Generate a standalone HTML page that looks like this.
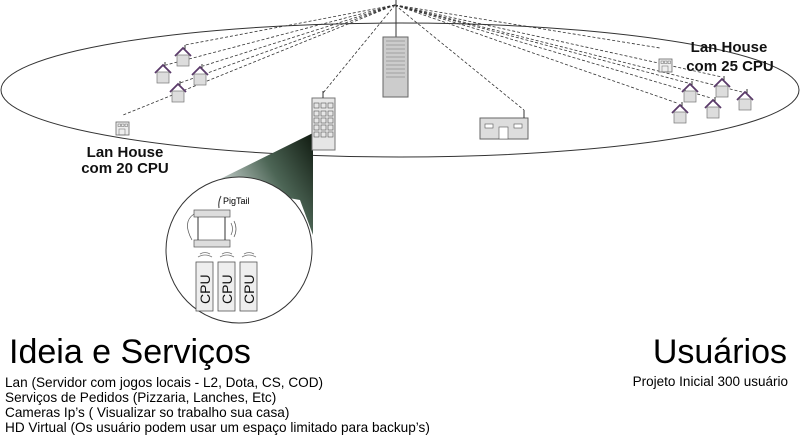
<!DOCTYPE html>
<html><head><meta charset="utf-8"><style>
body{margin:0;background:#fff;width:800px;height:435px;overflow:hidden;font-family:"Liberation Sans",sans-serif}
</style></head><body>
<svg width="800" height="435" viewBox="0 0 800 435" xmlns="http://www.w3.org/2000/svg" font-family="Liberation Sans, sans-serif">
<defs>
<linearGradient id="g" x1="1" y1="0" x2="0" y2="0.6">
<stop offset="0" stop-color="#101a10"/><stop offset="0.45" stop-color="#4d6656"/><stop offset="1" stop-color="#e8eeee"/>
</linearGradient>
<g id="h"><path d="M-8,0 L0,-8 L8,0" fill="none" stroke="#5a3a6a" stroke-width="1.8"/><rect x="-6" y="-1" width="12" height="11" fill="#ddd" stroke="#777" stroke-width="0.7"/><line x1="2" y1="-7" x2="2" y2="-11" stroke="#333"/></g>
<g id="lh"><rect x="-6" y="-6" width="13" height="13" fill="#eee" stroke="#666" stroke-width="0.8"/><rect x="-4" y="-4" width="2.5" height="2.5" fill="none" stroke="#666" stroke-width="0.5"/><rect x="-0.5" y="-4" width="2.5" height="2.5" fill="none" stroke="#666" stroke-width="0.5"/><rect x="3" y="-4" width="2.5" height="2.5" fill="none" stroke="#666" stroke-width="0.5"/><rect x="-3" y="1" width="6" height="6" fill="none" stroke="#666" stroke-width="0.5"/></g>
</defs>
<ellipse cx="400" cy="90" rx="399" ry="67" fill="none" stroke="#333" stroke-width="1"/>
<g stroke="#333" stroke-width="0.8" stroke-dasharray="3,2" fill="none">
<line x1="395" y1="5" x2="185" y2="45"/><line x1="395" y1="5" x2="166" y2="65"/>
<line x1="395" y1="5" x2="203" y2="66"/><line x1="395" y1="5" x2="180" y2="83"/>
<line x1="395" y1="5" x2="123" y2="115"/><line x1="395" y1="5" x2="323" y2="93"/>
<line x1="395" y1="5" x2="524" y2="110"/><line x1="395" y1="5" x2="660" y2="48"/>
<line x1="395" y1="5" x2="688" y2="83"/><line x1="395" y1="5" x2="722" y2="77"/>
<line x1="395" y1="5" x2="742" y2="92"/><line x1="395" y1="5" x2="677" y2="103"/>
<line x1="395" y1="5" x2="711" y2="98"/>
</g>
<line x1="396" y1="0" x2="396" y2="37" stroke="#333"/>
<rect x="383" y="37" width="25" height="60" fill="#ccc" stroke="#666"/>
<g fill="none" stroke="#777" stroke-width="0.5">
<path d="M386,41h19M386,45h19M386,49h19M386,53h19M386,57h19M386,61h19M386,65h19M386,69h19M386,73h19M386,77h19"/>
</g>
<path d="M313,133 L210,184 L300,200 L313,235 Z" fill="url(#g)"/>
<rect x="312" y="98" width="23" height="52" fill="#e6e6e6" stroke="#777"/>
<line x1="323" y1="91" x2="323" y2="98" stroke="#333"/>
<g fill="none" stroke="#555" stroke-width="0.6">
<rect x="314" y="103" width="5" height="5"/><rect x="321" y="103" width="5" height="5"/><rect x="328" y="103" width="5" height="5"/>
<rect x="314" y="111" width="5" height="5"/><rect x="321" y="111" width="5" height="5"/><rect x="328" y="111" width="5" height="5"/>
<rect x="314" y="118" width="5" height="5"/><rect x="321" y="118" width="5" height="5"/><rect x="328" y="118" width="5" height="5"/>
<rect x="314" y="125" width="5" height="5"/><rect x="321" y="125" width="5" height="5"/><rect x="328" y="125" width="5" height="5"/>
<rect x="314" y="132" width="5" height="5"/><rect x="321" y="132" width="5" height="5"/><rect x="328" y="132" width="5" height="5"/>
</g>
<circle cx="239" cy="250" r="73" fill="#fff" stroke="#333"/>
<path d="M221,196 q-3,6 -2,12" fill="none" stroke="#333"/>
<text x="223" y="204" font-size="9">PigTail</text>
<rect x="194" y="210" width="36" height="7" fill="#ddd" stroke="#555" stroke-width="0.7"/>
<rect x="194" y="240" width="36" height="7" fill="#ddd" stroke="#555" stroke-width="0.7"/>
<line x1="198" y1="217" x2="198" y2="240" stroke="#333"/><line x1="225" y1="217" x2="225" y2="240" stroke="#333"/>
<path d="M194,214 q-12,8 -2,26" fill="none" stroke="#555" stroke-width="0.7"/>
<path d="M231,223 q3,6 0,12 M234,221 q4,8 0,16" fill="none" stroke="#555" stroke-width="0.7"/>
<g fill="#eee" stroke="#555" stroke-width="0.8">
<rect x="196" y="262" width="17" height="49"/><rect x="218" y="262" width="17" height="49"/><rect x="240" y="262" width="17" height="49"/>
</g>
<g font-size="14" fill="#111">
<text transform="translate(210,304) rotate(-90)">CPU</text><text transform="translate(232,304) rotate(-90)">CPU</text><text transform="translate(254,304) rotate(-90)">CPU</text>
</g>
<g fill="none" stroke="#777" stroke-width="0.8"><path d="M198,257 q7,-4 14,0 M200,254 q5,-3 10,0 M220,257 q7,-4 14,0 M222,254 q5,-3 10,0 M242,257 q7,-4 14,0 M244,254 q5,-3 10,0"/></g>
<use href="#h" x="183" y="56"/><use href="#h" x="163" y="73"/><use href="#h" x="200" y="75"/><use href="#h" x="178" y="92"/>
<use href="#h" x="690" y="92"/><use href="#h" x="722" y="87"/><use href="#h" x="745" y="100"/><use href="#h" x="680" y="113"/><use href="#h" x="713" y="108"/>
<use href="#lh" x="122" y="128"/><use href="#lh" x="665" y="65"/>
<rect x="480" y="118" width="48" height="21" fill="#ddd" stroke="#666"/>
<rect x="485" y="124" width="8" height="4" fill="#fff" stroke="#555" stroke-width="0.6"/><rect x="514" y="124" width="8" height="4" fill="#fff" stroke="#555" stroke-width="0.6"/>
<rect x="499" y="127" width="9" height="12" fill="#fff" stroke="#555" stroke-width="0.6"/>
<line x1="524" y1="110" x2="524" y2="118" stroke="#333"/>
<g font-weight="bold" font-size="15" fill="#111" text-anchor="middle">
<text x="125" y="157">Lan House</text><text x="125" y="173">com 20 CPU</text>
<text x="729" y="52">Lan House</text><text x="730" y="71">com 25 CPU</text>
</g>
<text x="9" y="363" font-size="34" fill="#000">Ideia e Serviços</text>
<g font-size="13.6" fill="#000">
<text x="5" y="387">Lan (Servidor com jogos locais - L2, Dota, CS, COD)</text>
<text x="5" y="402">Serviços de Pedidos (Pizzaria, Lanches, Etc)</text>
<text x="5" y="417">Cameras Ip’s ( Visualizar so trabalho sua casa)</text>
<text x="5" y="432">HD Virtual (Os usuário podem usar um espaço limitado para backup’s)</text>
</g>
<text x="787" y="363" font-size="34" fill="#000" text-anchor="end">Usuários</text>
<text x="788" y="386" font-size="13.5" fill="#000" text-anchor="end">Projeto Inicial 300 usuário</text>
</svg>
</body></html>
